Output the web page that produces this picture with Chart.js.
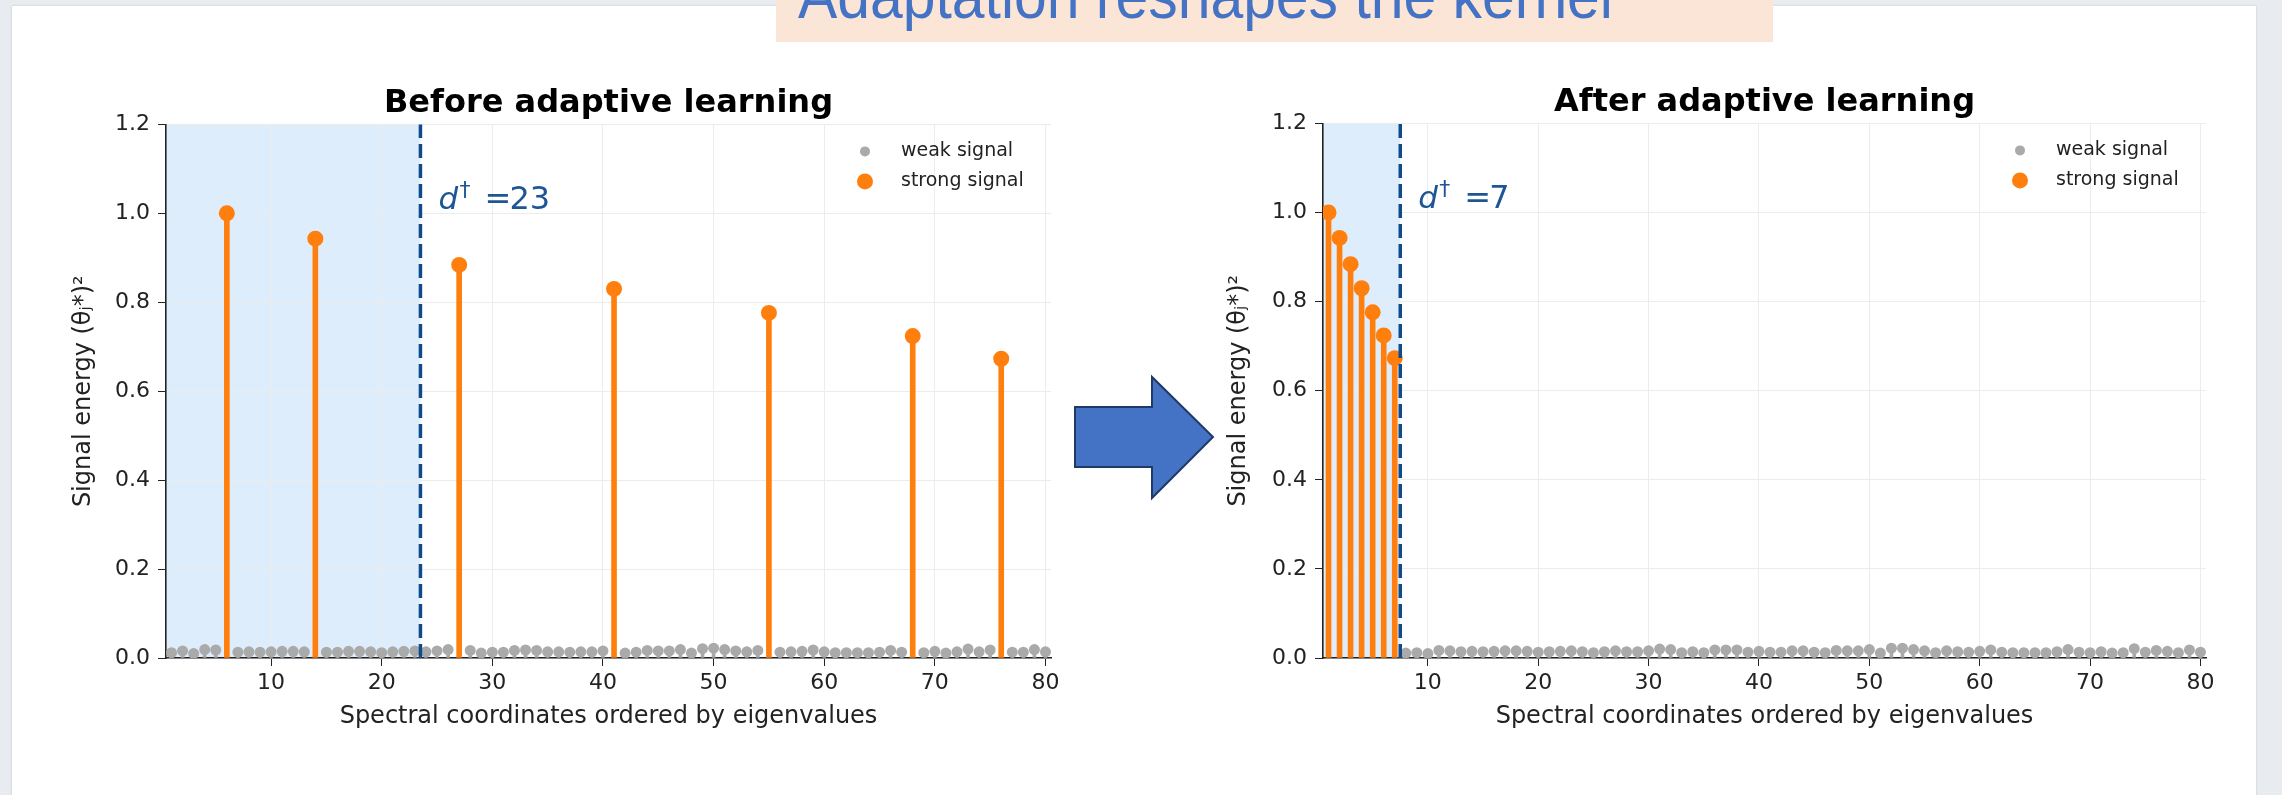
<!DOCTYPE html>
<html>
<head>
<meta charset="utf-8">
<script src="https://cdn.jsdelivr.net/npm/chart.js@4.4.1/dist/chart.umd.min.js"></script>
<style>
  html, body { margin: 0; padding: 0; }
  body { width: 2282px; height: 795px; background: #e8ecf1; position: relative; overflow: hidden; }
  #card { position: absolute; left: 12px; top: 6px; width: 2244px; height: 820px; background: #fff; box-shadow: 0 0 2px rgba(0,0,0,0.18); }
  #banner { position: absolute; left: 776px; top: 0; width: 997px; height: 42px; background: #fbe5d6; overflow: hidden; }
  #banner span { position: absolute; left: 22px; top: -36px; font-family: 'Liberation Sans Narrow', 'Liberation Sans', sans-serif; font-size: 64px; line-height: 1; color: #4472c4; white-space: nowrap; transform-origin: 0 0; }
  canvas { position: absolute; top: 0; }
  #before-chart { left: 0; }
  #after-chart { left: 1140px; }
  #arrow { position: absolute; left: 0; top: 0; }
</style>
</head>
<body>
<div id="card"></div>
<div id="banner"><span id="banner-text">Adaptation reshapes the kernel</span></div>
<canvas id="before-chart" width="1140" height="795"></canvas>
<canvas id="after-chart" width="1142" height="795"></canvas>
<svg id="arrow" width="2282" height="795">
  <polygon points="1075,407 1152,407 1152,377 1213,437 1152,498 1152,467 1075,467" fill="#4472c4" stroke="#1f3a66" stroke-width="2"/>
</svg>
<script>
// tick labels
const xTicks = [10, 20, 30, 40, 50, 60, 70, 80];
const yTicks = [0, 0.2, 0.4, 0.6, 0.8, 1.0, 1.2];

const xLabel = 'Spectral coordinates ordered by eigenvalues';
const yLabel = 'Signal energy (θⱼ*)²';
const legendLabels = ['weak signal', 'strong signal'];

// before adaptive learning
const beforeTitle = 'Before adaptive learning';
const beforeCutoff = 23;
const beforeStrongX = [6, 14, 27, 41, 55, 68, 76];
const beforeStrongY = [1.0, 0.943, 0.884, 0.83, 0.776, 0.724, 0.673];
// weak signal for coordinates 1..80 (null where the strong ones sit)
const beforeWeak = [
  0.012, 0.016, 0.010, 0.019, 0.018, null, 0.013, 0.014, 0.013, 0.014,
  0.015, 0.015, 0.014, null, 0.013, 0.013, 0.015, 0.015, 0.014, 0.012,
  0.014, 0.015, 0.016, 0.014, 0.016, 0.019, null, 0.017, 0.011, 0.013,
  0.013, 0.017, 0.018, 0.017, 0.014, 0.014, 0.013, 0.014, 0.014, 0.016,
  null, 0.011, 0.013, 0.017, 0.016, 0.016, 0.019, 0.011, 0.021, 0.022,
  0.019, 0.016, 0.014, 0.017, null, 0.013, 0.014, 0.015, 0.018, 0.014,
  0.012, 0.012, 0.012, 0.012, 0.013, 0.017, 0.013, null, 0.012, 0.015,
  0.011, 0.014, 0.020, 0.014, 0.018, null, 0.013, 0.013, 0.019, 0.014
];

// after adaptive learning
const afterTitle = 'After adaptive learning';
const afterCutoff = 7;
const afterStrongX = [1, 2, 3, 4, 5, 6, 7];
const afterStrongY = [1.0, 0.943, 0.884, 0.83, 0.776, 0.724, 0.673];
const afterWeak = [
  null, null, null, null, null, null, null, 0.011, 0.012, 0.010,
  0.017, 0.016, 0.014, 0.015, 0.014, 0.015, 0.016, 0.016, 0.015, 0.013,
  0.014, 0.015, 0.016, 0.014, 0.012, 0.014, 0.016, 0.014, 0.014, 0.016,
  0.020, 0.019, 0.012, 0.014, 0.012, 0.018, 0.018, 0.018, 0.013, 0.015,
  0.013, 0.013, 0.016, 0.016, 0.013, 0.012, 0.017, 0.016, 0.016, 0.019,
  0.011, 0.022, 0.022, 0.019, 0.016, 0.012, 0.016, 0.014, 0.013, 0.015,
  0.018, 0.013, 0.012, 0.012, 0.012, 0.012, 0.014, 0.019, 0.013, 0.012,
  0.014, 0.011, 0.012, 0.021, 0.013, 0.017, 0.015, 0.012, 0.018, 0.013
];

const GREY = '#aaaaaa';
const ORANGE = '#ff7f0e';
const LINE_BLUE = '#0f4a8a';
const TEXT_BLUE = '#1d5595';
const FONT = "'DejaVu Sans', sans-serif";

Chart.defaults.font.family = FONT;
Chart.defaults.color = '#222';

// fit banner text to its width in the slide
const bannerText = document.getElementById('banner-text');
bannerText.style.transform = 'scaleX(' + (815 / bannerText.offsetWidth) + ')';

// shading, cut-off line, its label and the legend
const decorPlugin = {
    id: 'decor',
    beforeDraw(chart, args, opts) {
        const { ctx, chartArea: a, scales: { x } } = chart;
        const x1 = x.getPixelForValue(opts.cutoff + 0.5);
        ctx.save();
        ctx.fillStyle = '#deedfc';
        ctx.fillRect(a.left, a.top, x1 - a.left, a.bottom - a.top);
        ctx.restore();
    },
    afterDatasetsDraw(chart, args, opts) {
        const { ctx, chartArea: a, scales: { x } } = chart;
        const xc = x.getPixelForValue(opts.cutoff + 0.5);
        ctx.save();
        ctx.strokeStyle = LINE_BLUE;
        ctx.lineWidth = 3.5;
        ctx.setLineDash([14, 6]);
        ctx.beginPath();
        ctx.moveTo(xc, a.bottom);
        ctx.lineTo(xc, a.top);
        ctx.stroke();
        ctx.setLineDash([]);

        // d† = N
        const x0 = xc + 18;
        const base = a.top + 85;
        ctx.fillStyle = TEXT_BLUE;
        ctx.textBaseline = 'alphabetic';
        ctx.textAlign = 'left';
        ctx.font = 'italic 31px ' + FONT;
        ctx.fillText('d', x0, base);
        ctx.font = '22px ' + FONT;
        ctx.fillText('†', x0 + 21, base - 12);
        ctx.font = '32px ' + FONT;
        ctx.fillText('=', x0 + 46, base);
        ctx.fillText(String(opts.cutoff), x0 + 71, base);
        ctx.restore();
    },
    afterDraw(chart) {
        const { ctx, chartArea: a } = chart;
        const mx = a.right - 186;
        const rows = [
            { label: legendLabels[0], color: GREY, r: 5, y: a.top + 27 },
            { label: legendLabels[1], color: ORANGE, r: 8, y: a.top + 57 }
        ];
        ctx.save();
        ctx.font = '19px ' + FONT;
        ctx.textBaseline = 'middle';
        ctx.textAlign = 'left';
        rows.forEach(row => {
            ctx.fillStyle = row.color;
            ctx.beginPath();
            ctx.arc(mx, row.y, row.r, 0, Math.PI * 2);
            ctx.fill();
            ctx.fillStyle = '#222';
            ctx.fillText(row.label, mx + 36, row.y);
        });
        ctx.restore();
    }
};

const toPoints = (xs, ys) => xs.map((v, i) => ({ x: v, y: ys[i] }));

const weakPoints = (values) => values
    .map((v, i) => ({ x: i + 1, y: v }))
    .filter(p => p.y !== null);

const makeChart = (canvasId, setup) => {
    const weak = weakPoints(setup.weak);
    const strong = toPoints(setup.strongX, setup.strongY);
    const ctx = document.getElementById(canvasId).getContext('2d');

    return new Chart(ctx, {
        type: 'scatter',
        data: {
            datasets: [
                { type: 'bar', data: weak, backgroundColor: GREY, barThickness: 3, grouped: false, borderWidth: 0, order: 4 },
                { type: 'scatter', data: weak, backgroundColor: GREY, pointRadius: 5.5, borderWidth: 0, order: 3 },
                { type: 'bar', data: strong, backgroundColor: ORANGE, barThickness: 5, grouped: false, borderWidth: 0, order: 2 },
                { type: 'scatter', data: strong, backgroundColor: ORANGE, pointRadius: 8, borderWidth: 0, order: 1 }
            ]
        },
        options: {
            responsive: false,
            animation: false,
            events: [],
            layout: { padding: setup.padding },
            plugins: {
                legend: { display: false },
                tooltip: { enabled: false },
                title: {
                    display: true,
                    text: setup.title,
                    fullSize: false,
                    color: '#000',
                    font: { size: 32, weight: 'bold' },
                    padding: { top: 0, bottom: 2 }
                },
                decor: { cutoff: setup.cutoff }
            },
            scales: {
                x: {
                    type: 'linear',
                    min: 0.5,
                    max: 80.5,
                    offset: false,
                    afterBuildTicks: (scale) => { scale.ticks = xTicks.map(v => ({ value: v })); },
                    afterFit: (scale) => { scale.height = 77; },
                    grid: { color: '#ececec', lineWidth: 1, tickColor: '#222', tickLength: 8, offset: false },
                    border: { color: '#222', width: 1.6 },
                    ticks: { font: { size: 22 }, color: '#222', padding: 4, maxRotation: 0 },
                    title: { display: true, text: xLabel, font: { size: 24 }, color: '#222', padding: { top: 0, bottom: 4 } }
                },
                y: {
                    type: 'linear',
                    min: 0,
                    max: 1.2,
                    afterBuildTicks: (scale) => { scale.ticks = yTicks.map(v => ({ value: v })); },
                    afterFit: (scale) => { scale.width = setup.yWidth; },
                    grid: { color: '#ececec', lineWidth: 1, tickColor: '#222', tickLength: 8 },
                    border: { color: '#222', width: 1.6 },
                    ticks: { font: { size: 22 }, color: '#222', padding: 8, callback: v => v.toFixed(1) },
                    title: { display: true, text: yLabel, font: { size: 24 }, color: '#222', padding: { top: 0, bottom: 0 } }
                }
            }
        },
        plugins: [decorPlugin]
    });
};

makeChart('before-chart', {
    title: beforeTitle,
    cutoff: beforeCutoff,
    weak: beforeWeak,
    strongX: beforeStrongX,
    strongY: beforeStrongY,
    padding: { left: 69, top: 84, right: 89, bottom: 60 },
    yWidth: 97
});

makeChart('after-chart', {
    title: afterTitle,
    cutoff: afterCutoff,
    weak: afterWeak,
    strongX: afterStrongX,
    strongY: afterStrongY,
    padding: { left: 84, top: 83, right: 76, bottom: 60 },
    yWidth: 99
});
</script>
</body>
</html>
